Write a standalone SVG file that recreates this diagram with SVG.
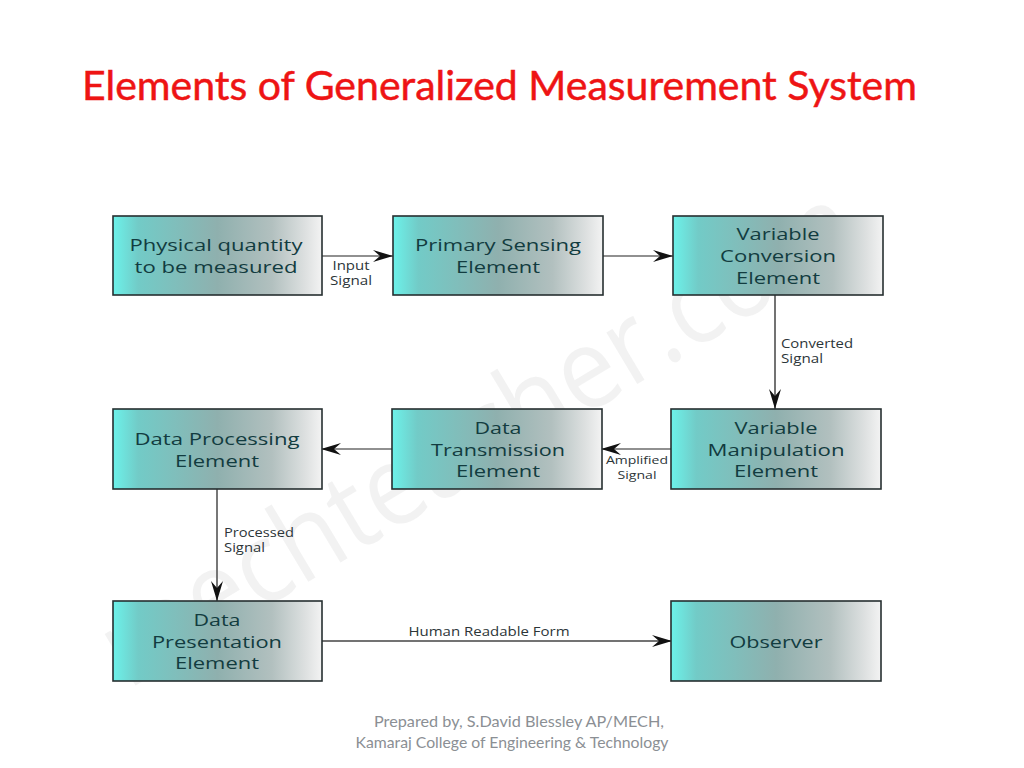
<svg xmlns="http://www.w3.org/2000/svg" width="1024" height="768" viewBox="0 0 1024 768">
<style>
text{font-family:"Open Sans","Noto Sans",sans-serif}
.box{fill:url(#g);stroke:#262f30;stroke-width:1.6}
.n{font-size:16.5px;fill:#123c40;text-anchor:middle}
.l{font-size:12px;fill:#2c3538}
.c{fill:none;stroke:#222;stroke-width:1.2}
.f{font-family:Lato,"Open Sans",sans-serif;font-size:15px;fill:#8b8f94;text-anchor:middle}
</style>
<defs>
<linearGradient id="g" x1="0" y1="0" x2="1" y2="0">
<stop offset="0" stop-color="#6cf2ea"/><stop offset="0.12" stop-color="#72cbc7"/><stop offset="0.5" stop-color="#8fb0ae"/><stop offset="0.76" stop-color="#b2c0bf"/><stop offset="0.92" stop-color="#dde0e0"/><stop offset="1" stop-color="#f3f3f3"/>
</linearGradient>
<marker id="a" markerUnits="userSpaceOnUse" markerWidth="22" markerHeight="16" refX="20" refY="8" orient="auto">
<path d="M0 2L20 8L0 14L7 8Z" fill="#111"/>
</marker>
</defs>
<rect width="1024" height="768" fill="#fff"/>
<text id="title" x="82" y="100" font-size="41" fill="#ee1414" stroke="#ee1414" stroke-width="0.5" style="font-family:Lato,'Open Sans',sans-serif" textLength="835" lengthAdjust="spacingAndGlyphs">Elements of Generalized Measurement System</text>
<text id="watermark" transform="translate(128 690) rotate(-31)" font-size="112" fill="#cfcfcf" fill-opacity="0.28" textLength="860" lengthAdjust="spacingAndGlyphs">mechteacher.com</text>
<g id="connectors">
<path class="c" d="M322 256H393" marker-end="url(#a)"/>
<path class="c" d="M603 256H673" marker-end="url(#a)"/>
<path class="c" d="M775 295V409" marker-end="url(#a)" style="stroke:#444;stroke-width:1.5"/>
<path class="c" d="M671 449H601" marker-end="url(#a)"/>
<path class="c" d="M392 449H321" marker-end="url(#a)"/>
<path class="c" d="M217 489V601" marker-end="url(#a)" style="stroke:#555;stroke-width:1.6"/>
<path class="c" d="M322 641H672" marker-end="url(#a)" style="stroke:#444;stroke-width:1.4"/>
</g>
<g id="connector-labels" class="l">
<text x="351" y="270" text-anchor="middle" textLength="37" lengthAdjust="spacingAndGlyphs">Input</text>
<text x="351" y="285" text-anchor="middle" textLength="42" lengthAdjust="spacingAndGlyphs">Signal</text>
<text x="781" y="348" textLength="72" lengthAdjust="spacingAndGlyphs">Converted</text>
<text x="781" y="363" textLength="42" lengthAdjust="spacingAndGlyphs">Signal</text>
<text x="637" y="464" text-anchor="middle" font-size="11" style="font-size:11px" textLength="62" lengthAdjust="spacingAndGlyphs">Amplified</text>
<text x="637" y="479" text-anchor="middle" style="font-size:11px" textLength="39" lengthAdjust="spacingAndGlyphs">Signal</text>
<text x="224" y="537" textLength="70" lengthAdjust="spacingAndGlyphs">Processed</text>
<text x="224" y="552" textLength="41" lengthAdjust="spacingAndGlyphs">Signal</text>
<text x="489" y="636" text-anchor="middle" textLength="161" lengthAdjust="spacingAndGlyphs">Human Readable Form</text>
</g>
<g id="n1"><rect class="box" x="113" y="216" width="209" height="79"/><text class="n" x="216" y="251" textLength="173" lengthAdjust="spacingAndGlyphs">Physical quantity</text><text class="n" x="216" y="273" textLength="163" lengthAdjust="spacingAndGlyphs">to be measured</text></g>
<g id="n2"><rect class="box" x="393" y="216" width="210" height="79"/><text class="n" x="498" y="251" textLength="166" lengthAdjust="spacingAndGlyphs">Primary Sensing</text><text class="n" x="498" y="273" textLength="84" lengthAdjust="spacingAndGlyphs">Element</text></g>
<g id="n3"><rect class="box" x="673" y="216" width="210" height="79"/><text class="n" x="778" y="240" textLength="83" lengthAdjust="spacingAndGlyphs">Variable</text><text class="n" x="778" y="262" textLength="116" lengthAdjust="spacingAndGlyphs">Conversion</text><text class="n" x="778" y="284" textLength="84" lengthAdjust="spacingAndGlyphs">Element</text></g>
<g id="n4"><rect class="box" x="671" y="409" width="210" height="80"/><text class="n" x="776" y="434" textLength="83" lengthAdjust="spacingAndGlyphs">Variable</text><text class="n" x="776" y="456" textLength="137" lengthAdjust="spacingAndGlyphs">Manipulation</text><text class="n" x="776" y="477" textLength="84" lengthAdjust="spacingAndGlyphs">Element</text></g>
<g id="n5"><rect class="box" x="392" y="409" width="210" height="80"/><text class="n" x="498" y="434" textLength="47" lengthAdjust="spacingAndGlyphs">Data</text><text class="n" x="498" y="456" textLength="134" lengthAdjust="spacingAndGlyphs">Transmission</text><text class="n" x="498" y="477" textLength="84" lengthAdjust="spacingAndGlyphs">Element</text></g>
<g id="n6"><rect class="box" x="113" y="409" width="209" height="80"/><text class="n" x="217" y="445" textLength="165" lengthAdjust="spacingAndGlyphs">Data Processing</text><text class="n" x="217" y="467" textLength="84" lengthAdjust="spacingAndGlyphs">Element</text></g>
<g id="n7"><rect class="box" x="113" y="601" width="209" height="80"/><text class="n" x="217" y="626" textLength="47" lengthAdjust="spacingAndGlyphs">Data</text><text class="n" x="217" y="648" textLength="130" lengthAdjust="spacingAndGlyphs">Presentation</text><text class="n" x="217" y="669" textLength="84" lengthAdjust="spacingAndGlyphs">Element</text></g>
<g id="n8"><rect class="box" x="671" y="601" width="210" height="80"/><text class="n" x="776" y="648" textLength="93" lengthAdjust="spacingAndGlyphs">Observer</text></g>
<g id="footer">
<text class="f" x="519" y="727" textLength="290" lengthAdjust="spacingAndGlyphs">Prepared by, S.David Blessley AP/MECH,</text>
<text class="f" x="512" y="748" textLength="313" lengthAdjust="spacingAndGlyphs">Kamaraj College of Engineering &amp; Technology</text>
</g>
</svg>
